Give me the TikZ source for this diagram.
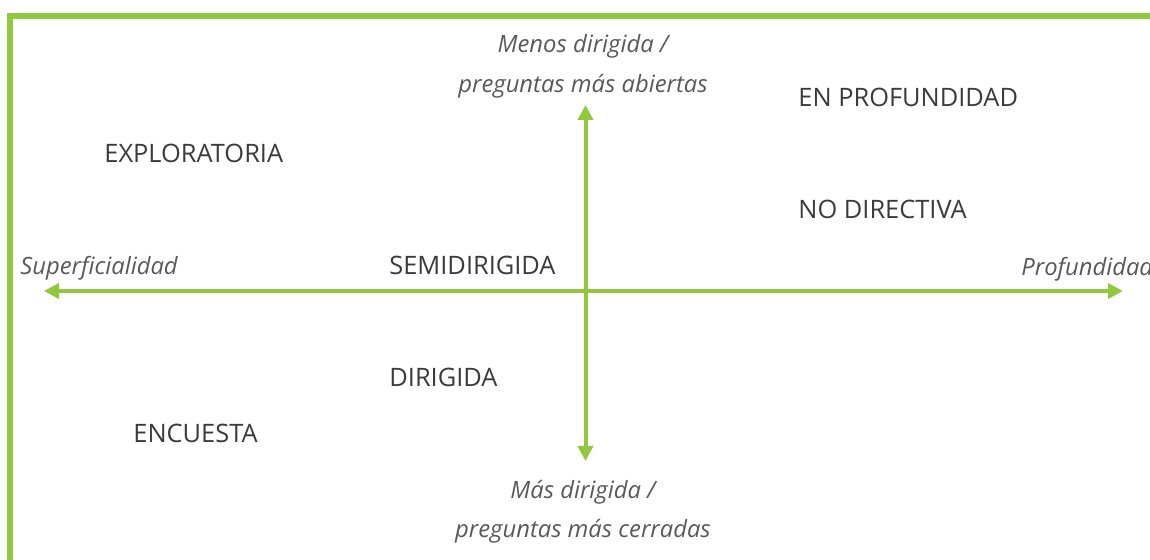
\documentclass[tikz,border=0pt]{standalone}
\usepackage{fontspec}
\setmainfont{Open Sans}
\usepackage{tikz}
\usetikzlibrary{
    arrows.meta
}
\definecolor{verde}{HTML}{92C83E}
\definecolor{tipogris}{HTML}{3B3B3B}
\definecolor{pologris}{HTML}{595959}

\begin{document}
\begin{tikzpicture}[x=0.5pt, y=-0.5pt,
    marco/.style={draw=verde, line width=3pt, line join=miter},
    eje/.style={draw=verde, line width=2pt, {Triangle[length=7.5pt, width=7.5pt]}-{Triangle[length=7.5pt, width=7.5pt]}},
    tipo/.style={inner sep=0pt, anchor=base west, text=tipogris, font=\fontsize{12.7pt}{15pt}\selectfont},
    polo/.style={inner sep=0pt, text=pologris, font=\fontsize{11.9pt}{20pt}\selectfont\itshape, align=center}]
                        \useasboundingbox (0, 0) rectangle (1150, 560);
                        \draw[marco] (10, 560) -- (10, 16) -- (1150, 16);
                        \coordinate (oeste) at (44, 291);
                        \coordinate (este) at (1123, 291);
                        \coordinate (norte) at (585.5, 105);
                        \coordinate (sur) at (585.5, 461);
                        \node[polo, anchor=base] (menos) at (583, 92.7) {Menos dirigida /\\preguntas más abiertas};
                        \node[polo, anchor=base] (mas) at (583, 538) {Más dirigida /\\preguntas más cerradas};
                        \node[polo, anchor=base west] (superf) at (20, 275) {Superficialidad};
                        \node[polo, anchor=base west] (profund) at (1021, 276) {Profundidad};
                        \node[tipo] (explor) at (104, 163) {EXPLORATORIA};
                        \node[tipo] (enprof) at (798, 106.7) {EN PROFUNDIDAD};
                        \node[tipo] (nodir) at (798, 219) {NO DIRECTIVA};
                        \node[tipo] (semidir) at (389, 275) {SEMIDIRIGIDA};
                        \node[tipo] (dir) at (389, 387) {DIRIGIDA};
                        \node[tipo] (encuesta) at (133, 443) {ENCUESTA};
                        \draw
                        (oeste) edge[eje] (este)
                        (sur) edge[eje] (norte);
                    \end{tikzpicture}
\end{document}
